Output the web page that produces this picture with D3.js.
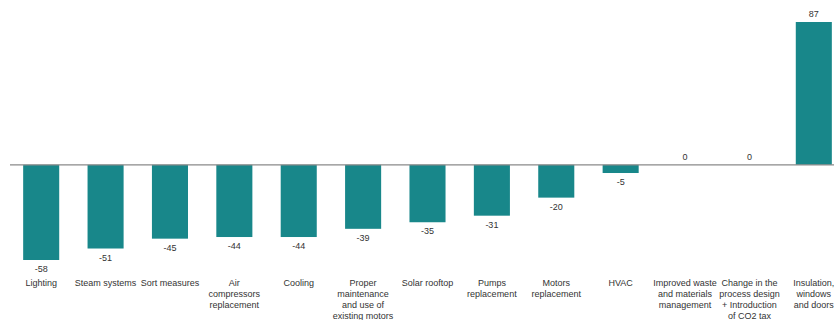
<!DOCTYPE html>
<html>
<head>
<meta charset="utf-8">
<script src="https://cdn.jsdelivr.net/npm/d3@7"></script>
<style>
  body { margin: 0; background: #fff; }
  svg { font-family: "Liberation Sans", Arial, sans-serif; }
</style>
</head>
<body>
<svg width="834" height="320"></svg>
<script>
// categories (each label split into its lines) and values
var categories = [
  ["Lighting"],
  ["Steam systems"],
  ["Sort measures"],
  ["Air", "compressors", "replacement"],
  ["Cooling"],
  ["Proper", "maintenance", "and use of", "existing motors"],
  ["Solar rooftop"],
  ["Pumps", "replacement"],
  ["Motors", "replacement"],
  ["HVAC"],
  ["Improved  waste", "and materials", "management"],
  ["Change in the", "process design", "+ Introduction", "of CO2 tax"],
  ["Insulation,", "windows", "and doors"]
];
var values = [-58, -51, -45, -44, -44, -39, -35, -31, -20, -5, 0, 0, 87];

var svg = d3.select("svg"),
    width = +svg.attr("width"),
    height = +svg.attr("height");

var x = d3.scaleBand()
    .domain(d3.range(values.length))
    .range([9, 846])
    .paddingInner(0.44)
    .paddingOuter(0.22);

var y = d3.scaleLinear()
    .domain([-58, 87])
    .range([260, 22]);

// bars
svg.selectAll("rect.bar")
    .data(values)
    .enter().append("rect")
    .attr("class", "bar")
    .attr("x", function(d, i) { return x(i); })
    .attr("width", x.bandwidth())
    .attr("y", function(d) { return y(Math.max(0, d)); })
    .attr("height", function(d) { return Math.abs(y(d) - y(0)); })
    .style("fill", "#18878a");

// zero line
svg.append("line")
    .attr("x1", 10).attr("x2", width)
    .attr("y1", y(0)).attr("y2", y(0))
    .style("stroke", "#8a8a8a")
    .style("stroke-width", 1.2);

// value labels
svg.selectAll("text.val")
    .data(values)
    .enter().append("text")
    .attr("class", "val")
    .attr("x", function(d, i) { return x(i) + x.bandwidth() / 2; })
    .attr("y", function(d) { return d < 0 ? y(d) + 12 : y(d) - 5; })
    .attr("text-anchor", "middle")
    .style("font-size", "9px")
    .style("fill", "#333")
    .text(function(d) { return d; });

// category labels
var cat = svg.selectAll("text.cat")
    .data(categories)
    .enter().append("text")
    .attr("class", "cat")
    .attr("text-anchor", "middle")
    .style("font-size", "9px")
    .style("fill", "#333");

cat.selectAll("tspan")
    .data(function(d, i) { return d.map(function(t) { return {t: t, i: i}; }); })
    .enter().append("tspan")
    .attr("x", function(d) { return x(d.i) + x.bandwidth() / 2; })
    .attr("y", function(d, j) { return 286 + j * 11; })
    .text(function(d) { return d.t; });
</script>
</body>
</html>
